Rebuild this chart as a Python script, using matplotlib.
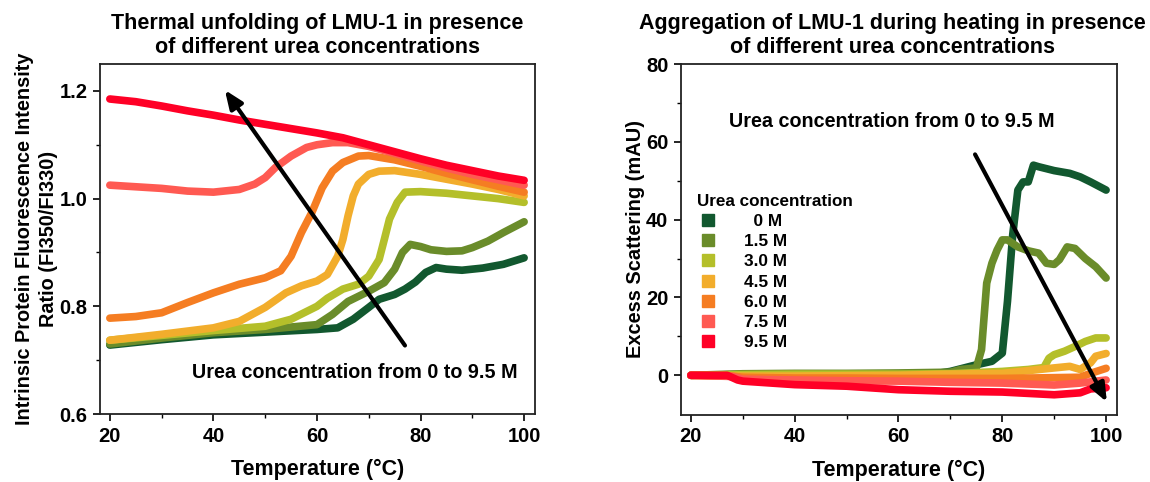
import matplotlib.pyplot as plt
from matplotlib.lines import Line2D

plt.rcParams['font.family'] = ['Liberation Sans', 'DejaVu Sans']
plt.rcParams['font.weight'] = 'bold'
plt.rcParams['axes.labelweight'] = 'bold'
plt.rcParams['axes.titleweight'] = 'bold'

urea = ['  0 M', '1.5 M', '3.0 M', '4.5 M', '6.0 M', '7.5 M', '9.5 M']
colors = ['#12582f', '#6a8c2a', '#b4bf2a', '#f2ad2c', '#f57d22', '#ff5a52', '#ff0026']

# --- fluorescence ratio 350/330 vs temperature ---
t_f0 = [20, 30, 40, 50, 60, 64, 67, 70, 72, 75, 77, 79, 81, 83, 85, 88, 92, 96, 100]
r_f0 = [0.728, 0.738, 0.747, 0.752, 0.757, 0.760, 0.776, 0.798, 0.813, 0.822, 0.832,
        0.845, 0.863, 0.872, 0.869, 0.867, 0.871, 0.878, 0.890]

t_f1 = [20, 30, 40, 50, 60, 63, 66, 70, 73, 75, 76.5, 78, 80, 82, 85, 88, 90, 93, 96, 100]
r_f1 = [0.730, 0.741, 0.751, 0.757, 0.766, 0.785, 0.809, 0.828, 0.844, 0.869, 0.900,
        0.915, 0.911, 0.905, 0.902, 0.903, 0.909, 0.921, 0.937, 0.957]

t_f2 = [20, 30, 40, 50, 55, 60, 62, 65, 68, 70, 72, 73, 74, 75.5, 77, 80, 85, 90, 95, 100]
r_f2 = [0.737, 0.746, 0.755, 0.763, 0.776, 0.800, 0.815, 0.832, 0.841, 0.856, 0.887,
        0.924, 0.962, 0.993, 1.012, 1.013, 1.010, 1.005, 1.000, 0.993]

t_f3 = [20, 30, 40, 45, 50, 54, 57, 60, 62, 64, 65, 66, 67, 68, 70, 72, 75, 80, 85, 90, 95, 100]
r_f3 = [0.737, 0.748, 0.760, 0.772, 0.798, 0.825, 0.838, 0.847, 0.859, 0.893, 0.924,
        0.968, 1.005, 1.027, 1.045, 1.051, 1.052, 1.045, 1.036, 1.027, 1.017, 1.005]

t_f4 = [20, 25, 30, 35, 40, 45, 50, 53, 55, 57, 59, 61, 63, 65, 68, 70, 75, 80, 85, 90, 95, 100]
r_f4 = [0.778, 0.781, 0.788, 0.807, 0.825, 0.841, 0.853, 0.866, 0.893, 0.937, 0.974,
        1.020, 1.051, 1.067, 1.079, 1.080, 1.072, 1.060, 1.047, 1.035, 1.023, 1.012]

t_f5 = [20, 30, 35, 40, 45, 48, 50, 52, 55, 58, 60, 63, 66, 70, 75, 80, 85, 90, 95, 100]
r_f5 = [1.025, 1.019, 1.014, 1.012, 1.017, 1.027, 1.039, 1.058, 1.079, 1.095, 1.100,
        1.104, 1.104, 1.097, 1.084, 1.070, 1.057, 1.045, 1.035, 1.025]

t_f6 = [20, 25, 30, 35, 40, 45, 50, 55, 60, 65, 70, 75, 80, 85, 90, 95, 100]
r_f6 = [1.185, 1.180, 1.172, 1.163, 1.155, 1.146, 1.138, 1.130, 1.122, 1.113, 1.100,
        1.087, 1.074, 1.062, 1.052, 1.042, 1.034]

# --- excess scattering vs temperature ---
t_s0 = [20, 30, 40, 50, 60, 68, 70, 75, 78, 80, 81, 82, 83, 84, 85, 86, 87, 90, 93, 95, 97, 100]
s_s0 = [0.0, 0.2, 0.2, 0.3, 0.4, 0.6, 1.0, 2.7, 3.6, 5.7, 19.0, 36.0, 47.6, 49.7, 49.7,
        54.0, 53.6, 52.6, 51.9, 51.0, 49.7, 47.6]

t_s1 = [20, 30, 40, 50, 60, 70, 72, 75, 76, 77, 78, 79, 80, 81, 83, 85, 87, 88.5, 90, 91,
        92.5, 94, 96, 98, 100]
s_s1 = [0.0, 0.4, 0.5, 0.5, 0.6, 0.8, 1.5, 1.9, 6.6, 23.7, 28.8, 32.2, 34.8, 34.8, 33.0,
        32.0, 31.4, 28.8, 28.5, 29.7, 33.0, 32.6, 30.0, 27.9, 25.0]

t_s2 = [20, 30, 40, 50, 60, 70, 80, 85, 88, 89, 90, 92, 94, 96, 98, 100]
s_s2 = [0.0, 0.2, 0.3, 0.3, 0.3, 0.4, 1.0, 1.5, 2.0, 4.4, 5.3, 6.2, 7.4, 8.7, 9.6, 9.6]

t_s3 = [20, 30, 40, 50, 60, 70, 80, 90, 93, 95, 97, 98, 100]
s_s3 = [0.0, -0.2, -0.2, -0.1, 0.0, 0.3, 0.5, 1.9, 2.3, 1.5, 3.2, 4.9, 5.6]

t_s4 = [20, 28, 30, 40, 50, 60, 70, 80, 90, 95, 97, 100]
s_s4 = [0.0, -0.2, -0.5, -0.7, -0.7, -0.8, -0.8, -0.8, -0.6, -0.5, 0.5, 1.8]

t_s5 = [20, 28, 30, 40, 50, 60, 70, 80, 90, 95, 100]
s_s5 = [0.0, -0.3, -1.0, -1.2, -1.4, -1.5, -1.8, -2.0, -2.5, -2.0, -1.2]

t_s6 = [20, 27, 29, 30, 40, 50, 60, 70, 80, 90, 95, 97, 100]
s_s6 = [0.0, 0.0, -1.2, -1.5, -2.4, -2.8, -3.7, -4.1, -4.3, -5.0, -4.5, -3.5, -3.2]

fluo = [(t_f0, r_f0), (t_f1, r_f1), (t_f2, r_f2), (t_f3, r_f3), (t_f4, r_f4), (t_f5, r_f5), (t_f6, r_f6)]
scat = [(t_s0, s_s0), (t_s1, s_s1), (t_s2, s_s2), (t_s3, s_s3), (t_s4, s_s4), (t_s5, s_s5), (t_s6, s_s6)]

fig = plt.figure(figsize=(11.5, 4.82), dpi=100)
ax1 = fig.add_axes([100/1150, 1 - 414/482, 435/1150, 350/482])
ax2 = fig.add_axes([681/1150, 1 - 415/482, 436/1150, 351/482])


def style(ax):
    ax.tick_params(which='major', direction='out', length=5, width=1.2, labelsize=14.5, pad=4)
    ax.tick_params(which='minor', direction='out', length=3, width=1.0)
    ax.tick_params(top=False, right=False, which='both')
    for s in ax.spines.values():
        s.set_linewidth(1.3)
        s.set_color('#222222')
    ax.set_xlim(18.1, 102.1)
    ax.set_xticks([20, 40, 60, 80, 100])
    ax.set_xticks([30, 50, 70, 90], minor=True)
    ax.set_xlabel('Temperature (°C)', fontsize=15.5, labelpad=10)


for (t, v), c in zip(fluo, colors):
    ax1.plot(t, v, color=c, lw=5.5, solid_capstyle='round', solid_joinstyle='round')
style(ax1)
ax1.set_ylim(0.6, 1.25)
ax1.set_yticks([0.6, 0.8, 1.0, 1.2])
ax1.set_yticks([0.7, 0.9, 1.1], minor=True)
ax1.set_ylabel('Intrinsic Protein Fluorescence Intensity\nRatio (FI350/FI330)', fontsize=14.3,
               labelpad=1, linespacing=1.35)
ax1.set_title('Thermal unfolding of LMU-1 in presence\nof different urea concentrations',
              fontsize=15.5, pad=8)
ax1.text(67.3, 0.677, 'Urea concentration from 0 to 9.5 M', ha='center', va='center', fontsize=14.2)
ax1.annotate('', xy=(41.9, 1.206), xytext=(77.3, 0.723),
             arrowprops=dict(arrowstyle='-|>,head_length=1.1,head_width=0.45', lw=3, color='black'))

for (t, v), c in zip(scat, colors):
    ax2.plot(t, v, color=c, lw=5.5, solid_capstyle='round', solid_joinstyle='round')
style(ax2)
ax2.set_ylim(-10.2, 80)
ax2.set_yticks([0, 20, 40, 60, 80])
ax2.set_yticks([10, 30, 50, 70], minor=True)
ax2.set_ylabel('Excess Scattering (mAU)', fontsize=14.4, labelpad=1)
ax2.set_title('Aggregation of LMU-1 during heating in presence\nof different urea concentrations',
              fontsize=15.5, pad=8, x=0.485)
ax2.text(58.7, 65.2, 'Urea concentration from 0 to 9.5 M', ha='center', va='center', fontsize=14.2)
ax2.annotate('', xy=(100.4, -7.5), xytext=(74.5, 57.4),
             arrowprops=dict(arrowstyle='-|>,head_length=1.1,head_width=0.45', lw=3, color='black'))

handles = [Line2D([], [], marker='s', ls='none', color=c, markersize=9) for c in colors]
leg = ax2.legend(handles, urea, title='Urea concentration', loc='upper left',
                 bbox_to_anchor=(0.01, 0.665), frameon=False, fontsize=12.4,
                 title_fontproperties={'size': 12.3, 'weight': 'bold'},
                 labelspacing=0.3, handletextpad=1.5, handlelength=1.2, borderpad=0.2)
leg._legend_box.align = 'left'

fig.savefig('out.png', dpi=100)
